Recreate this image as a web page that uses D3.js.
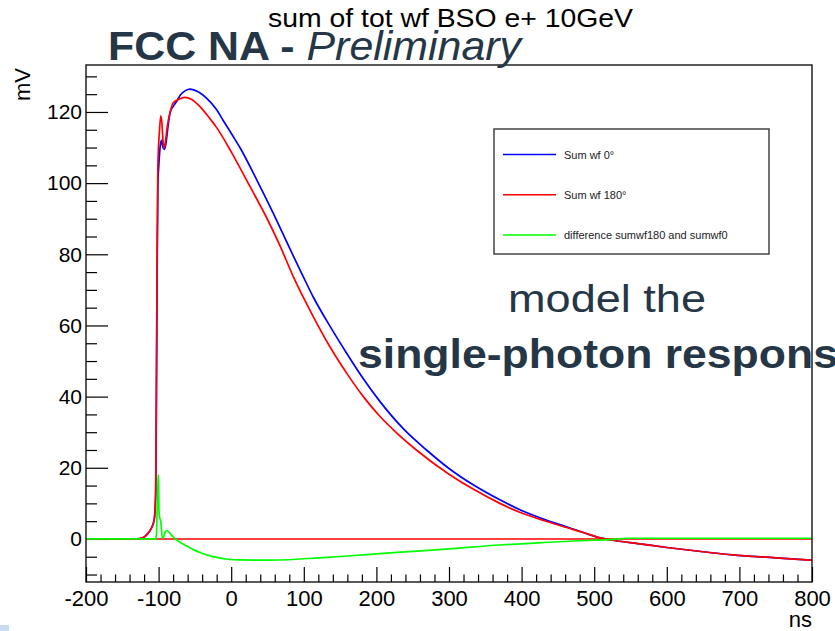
<!DOCTYPE html>
<html>
<head>
    <meta charset="utf-8">
    <script src="https://d3js.org/d3.v7.min.js"></script>
    <style>
        body { margin: 0; background: #fff; }
        text { font-family: "Liberation Sans", Arial, sans-serif; }
    </style>
</head>
<body>
<script>

    // waveform samples (ns, mV)
    var blueT = [-200,-130,-122,-115,-110,-106,-104,-103,-102,-101,-100,-98,-96,-94,-92,-90,-87,-84,-80,-75,-70,-63,-57,-45,-34,-20,-11,0,12,35,58,81,99,113,136,159,182,205,237,269,300,335,370,400,430,462,485,508,530,560,600,650,691,750,800];
    var blueV = [0,0,0.3,1.5,3,5.5,12,40,75,100,104,110,112,110,109.5,111,116,120,121.5,123,124.8,126,126.4,125.6,123.9,120.6,117.6,114,110,101,91.5,81.5,73.8,68,59.8,52.2,45,38.6,31,25,19.8,15,11,8,5.6,3.4,1.8,0.3,-0.5,-1.3,-2.4,-3.6,-4.5,-5.3,-6];

    var redT = [-200,-130,-122,-115,-110,-106,-104,-103,-102,-101,-99,-97,-95.5,-94,-92.5,-91,-88,-84,-80,-72,-64,-55,-43,-30,-20,0,26,49,67,86,113,136,159,182,205,230,255,300,335,370,400,430,462,485,508,530,560,600,650,691,750,800];
    var redV = [0,0,0.3,1.5,3,5.5,14,45,80,105,114,118.9,117,112,109.8,111,116,120,122.5,123.6,124.1,123.6,121.5,118.3,115.6,108.8,99,90.2,82.5,73.5,62.5,54,46.6,40,34.4,29.4,25,18.2,13.8,10,7.3,5.2,3.2,1.8,0.3,-0.5,-1.3,-2.4,-3.6,-4.5,-5.3,-6];

    var greenT = [-200,-104,-103,-102,-101,-100.5,-100,-99.5,-98.5,-97,-96,-95,-93,-91,-88,-86,-82,-77,-70,-61,-52,-43,-30,-20,-5,10,50,90,122,160,200,250,300,370,430,480,527,545,800];
    var greenV = [0,0,1,8,14,18,16,8,6,5,2.5,0.3,0.5,2,2.3,2,1,0,-1,-2,-3,-3.8,-4.7,-5.2,-5.7,-5.9,-5.95,-5.7,-5.3,-4.8,-4.2,-3.5,-2.8,-1.7,-1.0,-0.5,-0.1,0.2,0.2];

    var xTicks = [-200,-100,0,100,200,300,400,500,600,700,800];
    var yTicks = [0,20,40,60,80,100,120];

    var legendNames = ['Sum wf 0\u00b0', 'Sum wf 180\u00b0', 'difference sumwf180 and sumwf0'];
    var legendColors = ['#0000ff', '#ff0000', '#00ff00'];

    var width = 835;
    var height = 631;
    var frameL = 86, frameR = 812, frameT = 65, frameB = 582;

    var xScale = d3.scaleLinear()
        .domain([-200, 800])
        .range([frameL, frameR]);

    var yScale = d3.scaleLinear()
        .domain([-12.1, 133.2])
        .range([frameB, frameT]);

    var fmt = function(d) {return String(d)};

    var svg = d3.select('body').append('svg')
        .attr('width', width)
        .attr('height', height);

    svg.append('clipPath').attr('id', 'frameClip')
        .append('rect')
        .attr('x', frameL).attr('y', frameT)
        .attr('width', frameR-frameL).attr('height', frameB-frameT);

    // titles
    svg.append('text')
        .attr('x', 268).attr('y', 27)
        .attr('font-size', 26)
        .attr('textLength', 365)
        .attr('lengthAdjust', 'spacingAndGlyphs')
        .text('sum of tot wf BSO e+ 10GeV');

    // minor ticks
    var xMinor = d3.range(-200, 801, 20).filter(function(d) {return d % 100 != 0});
    var yMinor = d3.range(-10, 131, 5).filter(function(d) {return d % 20 != 0});

    svg.append('g')
        .attr('transform', 'translate(0,' + frameB + ')')
        .call(d3.axisBottom(xScale).tickValues(xMinor).tickSize(-7.5).tickFormat(''))
        .call(function(g) {g.select('.domain').remove()});

    svg.append('g')
        .attr('transform', 'translate(' + frameL + ',0)')
        .call(d3.axisLeft(yScale).tickValues(yMinor).tickSize(-11).tickFormat(''))
        .call(function(g) {g.select('.domain').remove()});

    var gX = svg.append('g')
        .attr('transform', 'translate(0,' + frameB + ')')
        .call(d3.axisBottom(xScale).tickValues(xTicks).tickSize(-15).tickPadding(8).tickFormat(fmt));
    gX.select('.domain').remove();
    gX.selectAll('text').attr('font-size', 22).attr('fill', '#000')
        .style('font-family', '"Liberation Sans", Arial, sans-serif');

    var gY = svg.append('g')
        .attr('transform', 'translate(' + frameL + ',0)')
        .call(d3.axisLeft(yScale).tickValues(yTicks).tickSize(-22).tickPadding(4).tickFormat(fmt));
    gY.select('.domain').remove();
    gY.selectAll('text').attr('font-size', 21).attr('fill', '#000')
        .style('font-family', '"Liberation Sans", Arial, sans-serif');

    svg.selectAll('.tick line').attr('stroke', '#000').attr('stroke-width', 1.2);

    // axis titles
    svg.append('text')
        .attr('transform', 'translate(30,101) rotate(-90)')
        .attr('font-size', 22)
        .text('mV');

    svg.append('text')
        .attr('x', 812).attr('y', 627)
        .attr('text-anchor', 'end')
        .attr('font-size', 22)
        .text('ns');

    // curves
    var line = d3.line()
        .curve(d3.curveMonotoneX)
        .x(function(d) {return xScale(d[0])})
        .y(function(d) {return yScale(d[1])});

    var plot = svg.append('g').attr('clip-path', 'url(#frameClip)');

    plot.append('path')
        .datum(blueT.map(function(t, i) {return [t, blueV[i]]}))
        .attr('d', line)
        .attr('fill', 'none').attr('stroke', '#0000ff').attr('stroke-width', 1.7);

    plot.append('path')
        .datum(redT.map(function(t, i) {return [t, redV[i]]}))
        .attr('d', line)
        .attr('fill', 'none').attr('stroke', '#ff0000').attr('stroke-width', 1.7);

    plot.append('path')
        .datum([[-200, 0], [800, 0]])
        .attr('d', line)
        .attr('fill', 'none').attr('stroke', '#ff0000').attr('stroke-width', 1.4);

    plot.append('path')
        .datum(greenT.map(function(t, i) {return [t, greenV[i]]}))
        .attr('d', line)
        .attr('fill', 'none').attr('stroke', '#00ff00').attr('stroke-width', 1.7);

    // frame
    svg.append('rect')
        .attr('x', frameL).attr('y', frameT)
        .attr('width', frameR-frameL).attr('height', frameB-frameT)
        .attr('fill', 'none').attr('stroke', '#000').attr('stroke-width', 1.3);

    // legend
    var legend = svg.append('g');
    legend.append('rect')
        .attr('x', 494).attr('y', 129)
        .attr('width', 275).attr('height', 125)
        .attr('fill', '#fff').attr('stroke', '#444').attr('stroke-width', 1.5);

    legendNames.forEach(function(name, i) {
        var ly = 154.5 + i*40.3;
        legend.append('line')
            .attr('x1', 503).attr('x2', 556)
            .attr('y1', ly).attr('y2', ly)
            .attr('stroke', legendColors[i]).attr('stroke-width', 1.5);
        legend.append('text')
            .attr('x', 564).attr('y', ly + 4)
            .attr('font-size', 11)
            .attr('fill', '#222')
            .text(name);
    });

    // slide overlay text
    var fcc = svg.append('text')
        .attr('x', 108).attr('y', 60)
        .attr('font-size', 40)
        .attr('fill', '#253746')
        .attr('textLength', 413)
        .attr('lengthAdjust', 'spacingAndGlyphs');
    fcc.append('tspan').attr('font-weight', 'bold').text('FCC NA - ');
    fcc.append('tspan').attr('font-style', 'italic').text('Preliminary');

    svg.append('text')
        .attr('x', 508).attr('y', 312)
        .attr('font-size', 38)
        .attr('fill', '#253746')
        .attr('textLength', 198)
        .attr('lengthAdjust', 'spacingAndGlyphs')
        .text('model the');

    svg.append('text')
        .attr('x', 358).attr('y', 368)
        .attr('font-size', 41)
        .attr('font-weight', 'bold')
        .attr('fill', '#253746')
        .attr('textLength', 480)
        .attr('lengthAdjust', 'spacingAndGlyphs')
        .text('single-photon respons');

    svg.append('rect')
        .attr('x', 0).attr('y', 625)
        .attr('width', 9).attr('height', 6)
        .attr('fill', '#c9dcef');

</script>
</body>
</html>
